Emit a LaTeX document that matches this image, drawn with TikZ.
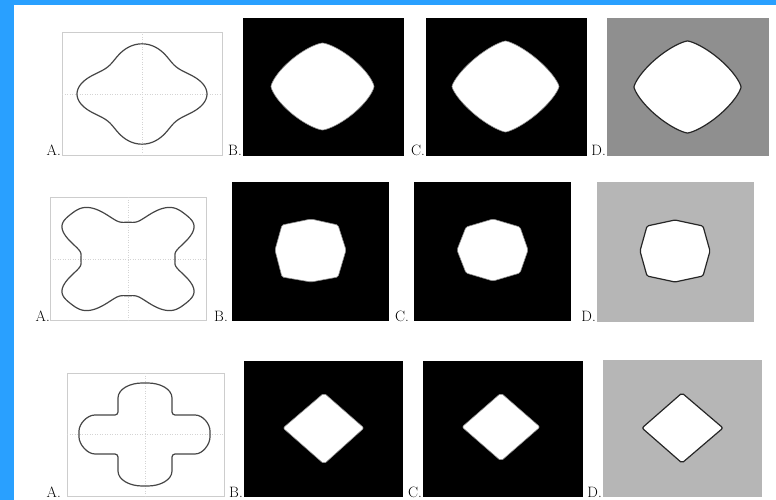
\documentclass[tikz,border=0pt]{standalone}
\usepackage{xcolor}
\usepackage{tikz}
\definecolor{frameblue}{RGB}{41,160,255}
\definecolor{axgray}{RGB}{205,205,205}
\definecolor{gridgray}{RGB}{212,212,212}
\definecolor{curvegray}{RGB}{70,70,70}
\definecolor{darkbg}{RGB}{143,143,143}
\definecolor{lightbg}{RGB}{182,182,182}
\begin{document}
\begin{tikzpicture}[x=1pt,y=-1pt,
  axbox/.style={draw=axgray,line width=0.9pt},
  crossline/.style={draw=gridgray,dotted,line width=0.5pt},
  contour/.style={draw=curvegray,line width=1.2pt,line join=round},
  blob/.style={fill=white,draw=black!45,line width=0.6pt},
  rim/.style={fill=white,draw=black!85,line width=1.2pt},
  lab/.style={anchor=base east,inner sep=0pt,font=\fontsize{15}{17}\selectfont}]
\useasboundingbox (0,0) rectangle (776,500);
\fill[white] (0,0) rectangle (776,500);
\fill[frameblue] (0,0) rectangle (776,5);
\fill[frameblue] (0,0) rectangle (14,500);
\draw[axbox] (62,32) rectangle (222,155);
\draw[crossline] (142,32) -- (142,155); \draw[crossline] (62,94) -- (222,94);
\draw[contour] plot[domain=0:360,samples=241,variable=\t] ({142+57*(1+0.14*cos(4*\t))*cos(\t)},{94+44*(1+0.14*cos(4*\t))*sin(\t)}) -- cycle;
\fill[black] (243,18) rectangle (404,156);
\filldraw[blob] plot[domain=1:361,samples=121,variable=\t] ({322.5+51.5*cos(\t)*pow(abs(cos(\t)),0.43)},{86.5+43.5*sin(\t)*pow(abs(sin(\t)),0.43)}) -- cycle;
\fill[black] (426,18) rectangle (587,156);
\filldraw[blob] plot[domain=1:361,samples=121,variable=\t] ({505.5+53.5*cos(\t)*pow(abs(cos(\t)),0.5)},{86.5+45.5*sin(\t)*pow(abs(sin(\t)),0.5)}) -- cycle;
\fill[darkbg] (607,18) rectangle (769,156);
\filldraw[rim] plot[domain=1:361,samples=121,variable=\t] ({687.5+53.5*cos(\t)*pow(abs(cos(\t)),0.47)},{87+46*sin(\t)*pow(abs(sin(\t)),0.47)}) -- cycle;
\node[lab] (labA1) at (61,156) {A.};
\node[lab] (labB1) at (242,156) {B.};
\node[lab] (labC1) at (425,156) {C.};
\node[lab] (labD1) at (606,156) {D.};
\draw[axbox] (50,197) rectangle (206,320);
\draw[crossline] (128,197) -- (128,320); \draw[crossline] (50,259) -- (206,259);
\draw[contour] plot[domain=0:360,samples=361,variable=\t] ({128+64*(1-0.3*cos(4*\t)+0.035*cos(12*\t))*cos(\t)},{259+50*(1-0.3*cos(4*\t)+0.035*cos(12*\t))*sin(\t)}) -- cycle;
\fill[black] (232,182) rectangle (389,321);
\filldraw[blob,rounded corners=1.5pt] (311,219) -- (338,225) -- (346,250) -- (338,277) -- (311,282) -- (282,277) -- (275,250) -- (282,225) -- cycle;
\fill[black] (414,182) rectangle (571,321);
\filldraw[blob,rounded corners=1.5pt] (493,219) -- (520,227) -- (528,250) -- (520,273) -- (493,281) -- (466,273) -- (457,250) -- (466,227) -- cycle;
\fill[lightbg] (597,182) rectangle (754,322);
\filldraw[rim,rounded corners=1.5pt] (675,220) -- (703,226) -- (710,251) -- (703,276) -- (675,282) -- (647,276) -- (640,251) -- (647,226) -- cycle;
\node[lab] (labA2) at (50,321) {A.};
\node[lab] (labB2) at (228,321) {B.};
\node[lab] (labC2) at (409,321) {C.};
\node[lab] (labD2) at (596,321) {D.};
\draw[axbox] (67,373) rectangle (224,496);
\draw[crossline] (145,373) -- (145,496); \draw[crossline] (67,434) -- (224,434);
\begin{scope}[shift={(145,434)}]
\draw[contour,rounded corners=3pt] (-27,-19) -- (-27,-33) .. controls (-27,-45) and (-15,-51) .. (0,-51) .. controls (15,-51) and (27,-45) .. (27,-33) -- (27,-19) -- (47,-19) .. controls (58,-19) and (65,-10) .. (65,0) .. controls (65,10) and (58,20) .. (47,20) -- (27,20) -- (27,34) .. controls (27,46) and (15,52) .. (0,52) .. controls (-15,52) and (-27,46) .. (-27,34) -- (-27,20) -- (-47,20) .. controls (-58,20) and (-66,10) .. (-66,0) .. controls (-66,-10) and (-58,-19) .. (-47,-19) -- cycle;
\end{scope}
\fill[black] (244,361) rectangle (403,497);
\filldraw[blob,rounded corners=2pt] (324,393) -- (364,428) -- (324,464) -- (283,428) -- cycle;
\fill[black] (423,361) rectangle (583,497);
\filldraw[blob,rounded corners=2pt] (501,393) -- (540,427) -- (501,461) -- (462,427) -- cycle;
\fill[lightbg] (603,360) rectangle (762,497);
\filldraw[rim,rounded corners=2pt] (682,393) -- (723,428) -- (682,463) -- (642,428) -- cycle;
\node[lab] (labA3) at (61,497) {A.};
\node[lab] (labB3) at (243,497) {B.};
\node[lab] (labC3) at (422,497) {C.};
\node[lab] (labD3) at (602,497) {D.};
\end{tikzpicture}
\end{document}
